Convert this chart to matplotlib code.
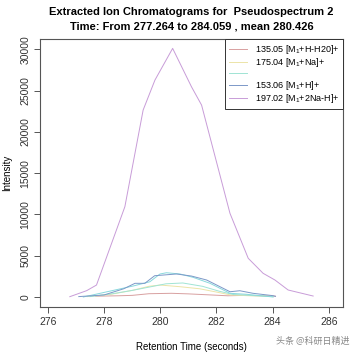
import numpy as np
import matplotlib
matplotlib.use("Agg")
import matplotlib.pyplot as plt
from matplotlib.lines import Line2D

plt.rcParams['font.family'] = ['Liberation Sans', 'DejaVu Sans']
plt.rcParams['mathtext.fontset'] = 'custom'
plt.rcParams['mathtext.rm'] = 'Liberation Sans'
plt.rcParams['mathtext.it'] = 'Liberation Sans'

# retention time (s) / intensity for each ion trace
t_135 = [277.7, 278.5, 279.0, 279.6, 280.4, 281.0, 281.8, 282.4, 283.0, 283.6, 284.1]
i_135 = [100, 150, 200, 400, 450, 380, 250, 150, 200, 150, 100]

t_175 = [277.4, 278.2, 279.0, 279.6, 280.0, 280.7, 281.4, 282.0, 282.5, 283.2, 284.0]
i_175 = [50, 300, 800, 1300, 1450, 1250, 1000, 600, 250, 150, 100]

t_3rd = [277.5, 278.3, 279.0, 279.6, 280.2, 280.8, 281.5, 282.1, 282.6, 283.2, 284.0]
i_3rd = [50, 400, 800, 1200, 1600, 1700, 1300, 700, 300, 200, 50]

t_cyan = [277.26, 279.03, 279.63, 279.99, 280.22, 280.7, 281.17, 281.77, 282.48, 283.07, 284.02]
i_cyan = [0, 1330, 1850, 2790, 2940, 2790, 2380, 1660, 450, 330, 0]

t_153 = [277.1, 278.0, 278.7, 279.1, 279.45, 279.8, 280.58, 281.11, 281.65, 282.48, 282.83, 283.3, 284.02, 284.1]
i_153 = [50, 250, 1000, 1660, 1660, 2580, 2790, 2540, 2060, 640, 760, 450, 160, 80]

t_197 = [276.78, 277.38, 277.73, 278.74, 279.39, 279.81, 280.44, 281.11, 281.47,
         282.48, 283.13, 283.66, 284.08, 284.55, 285.44]
i_197 = [40, 770, 1450, 10940, 22650, 26280, 30120, 25470, 23250,
         10140, 4690, 2870, 2060, 850, 120]

labels = ['135.05 [M$_1$+H-H20]+', '175.04 [M$_1$+Na]+', '',
          '153.06 [M$_1$+H]+', '197.02 [M$_1$+2Na-H]+']
colors = ['#d8a0a0', '#ece4a8', '#a0e4d4', '#7c98c8', '#c89cd8']

fig = plt.figure(figsize=(3.55, 3.55), dpi=100)
ax = fig.add_axes([0.1127, 0.1352, 0.8533, 0.7548])

ax.plot(t_135, i_135, color=colors[0], lw=0.7)
ax.plot(t_175, i_175, color=colors[1], lw=0.7)
ax.plot(t_3rd, i_3rd, color=colors[2], lw=0.7)
ax.plot(t_cyan, i_cyan, color='#88d8dc', lw=0.7)
ax.plot(t_153, i_153, color=colors[3], lw=0.7)
ax.plot(t_197, i_197, color=colors[4], lw=0.7)

ax.set_xlim(275.72, 286.5)
ax.set_ylim(-1210, 31250)
ax.set_xticks([276, 278, 280, 282, 284, 286])
ax.set_yticks([0, 5000, 10000, 15000, 20000, 25000, 30000])
for s in ax.spines.values():
    s.set_color('#555555')
    s.set_linewidth(0.8)
ax.tick_params(direction='out', length=4, width=0.7, color='#555555',
               labelsize=7.5, labelcolor='#333333', pad=3)
plt.setp(ax.get_yticklabels(), rotation=90, va='center')

ax.set_xlabel('Retention Time (seconds)', fontsize=7, labelpad=11)
ax.set_ylabel('Intensity', fontsize=7, labelpad=6)
ax.set_title('Extracted Ion Chromatograms for  Pseudospectrum 2\n'
             'Time: From 277.264 to 284.059 , mean 280.426',
             fontsize=8, fontweight='bold', pad=7, linespacing=1.5)

handles = [Line2D([], [], color=c, lw=0.7) for c in colors]
leg = ax.legend(handles, labels, loc='upper right', borderaxespad=0,
                fontsize=6.5, fancybox=False, framealpha=1, edgecolor='#333333',
                handlelength=2.0, handletextpad=0.9, labelspacing=0.05,
                borderpad=0.4)
leg.get_frame().set_linewidth(0.7)

fig.text(0.985, 0.03, '头条 @科研日精进', ha='right', fontsize=6.5,
         color='#888888', family=['Noto Sans CJK SC', 'DejaVu Sans'])

fig.savefig('out.png', dpi=100)
